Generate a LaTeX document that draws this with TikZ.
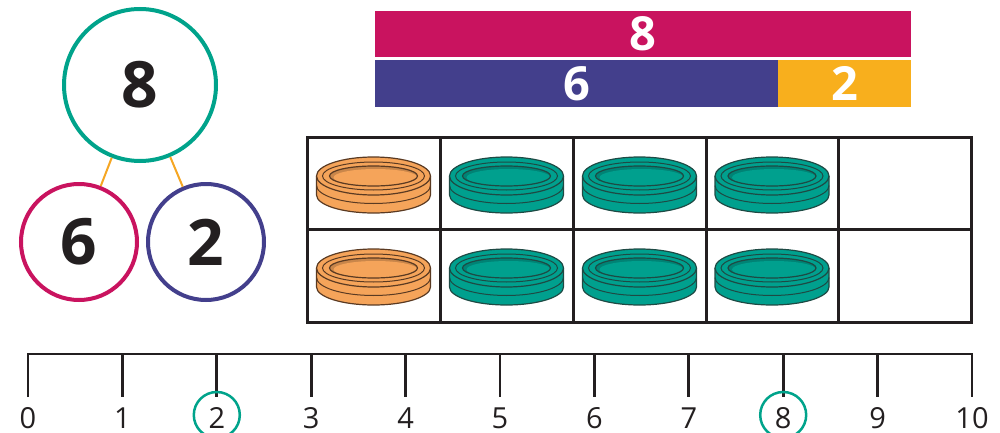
\documentclass[tikz,border=0pt]{standalone}
\usepackage{fontspec}
\setmainfont{Open Sans}
\definecolor{cTeal}{HTML}{00A38B}
\definecolor{cPink}{HTML}{C9135F}
\definecolor{cPurple}{HTML}{433F8C}
\definecolor{cBarOr}{HTML}{F8AF1D}
\definecolor{cLink}{HTML}{F5A623}
\definecolor{cDark}{HTML}{231F20}
\definecolor{cCntTeal}{HTML}{00A08E}
\definecolor{cCntTealD}{HTML}{1E4A44}
\definecolor{cCntOr}{HTML}{F5A45A}
\definecolor{cCntOrD}{HTML}{5A3A22}
\tikzset{
  bigcirc/.style={circle, line width=4, minimum size=152, inner sep=0, text=cDark, font=\fontsize{64}{64}\selectfont\bfseries},
  smallcirc/.style={circle, line width=4, minimum size=116, inner sep=0, text=cDark, font=\fontsize{64}{64}\selectfont\bfseries},
  link/.style={cLink, line width=2},
  barbox/.style={rectangle, inner sep=0, text=white, font=\fontsize{47}{47}\selectfont\bfseries},
  gridline/.style={cDark, line width=3},
  nlline/.style={cDark, line width=2.8},
  nllabel/.style={anchor=base, inner sep=0, text=cDark, font=\fontsize{29}{29}\selectfont},
  ring/.style={circle, draw=cTeal, line width=2.5, minimum size=46, inner sep=0},
  pics/counter/.style 2 args={code={
    \fill[#1] (-57,-9) -- (-57,10) arc[start angle=180,end angle=0,x radius=57,y radius=18] -- (57,-9) -- cycle;
    \draw[#2, line width=1] (-57,0.5) arc[start angle=180,end angle=0,x radius=57,y radius=18];
    \draw[#2, line width=1.2] (-57,-9) -- (-57,10) arc[start angle=180,end angle=0,x radius=57,y radius=18] -- (57,-9);
    \filldraw[fill=#1, draw=#2, line width=1.2] (0,-9) ellipse [x radius=57, y radius=19];
    \draw[#2, line width=1] (0,-9) ellipse [x radius=51, y radius=14];
    \fill[#1!82!black] (0,-9) ellipse [x radius=44, y radius=10];
    \fill[#1] (2,-7.5) ellipse [x radius=42, y radius=8.5];
    \draw[#2, line width=1.2] (0,-9) ellipse [x radius=44, y radius=10];
  }}
}
\begin{document}
\begin{tikzpicture}[x=1pt, y=-1pt]
\useasboundingbox (0,0) rectangle (1000,433);
% part-whole model
\node[bigcirc, draw=cTeal] (whole) at (140,85) {8};
\node[smallcirc, draw=cPink] (partA) at (79,242) {6};
\node[smallcirc, draw=cPurple] (partB) at (206,242) {2};
\draw[link] (whole) -- (partA);
\draw[link] (whole) -- (partB);
% bar model
\node[barbox, fill=cPink, minimum width=536, minimum height=46] (barW) at (643,34) {8};
\node[barbox, fill=cPurple, minimum width=403, minimum height=47] (barA) at (576.5,83.5) {6};
\node[barbox, fill=cBarOr, minimum width=133, minimum height=47] (barB) at (844.5,83.5) {2};
% ten frame
\draw[gridline] (307,137) rectangle (971,322);
\draw[gridline] (307,229) -- (971,229);
\foreach \x in {440,573,706,838} \draw[gridline] (\x,137) -- (\x,322);
\foreach \x in {373.5} {
  \pic at (\x,185) {counter={cCntOr}{cCntOrD}};
  \pic at (\x,277) {counter={cCntOr}{cCntOrD}};
}
\foreach \x in {506.5,639.5,772} {
  \pic at (\x,185) {counter={cCntTeal}{cCntTealD}};
  \pic at (\x,277) {counter={cCntTeal}{cCntTealD}};
}
% number line
\draw[nlline] (28,397) -- (28,354) -- (972,354) -- (972,397);
\foreach \i in {1,...,9} \draw[nlline] ({28+94.4*\i},354) -- ({28+94.4*\i},397);
\foreach \i in {0,...,10} \node[nllabel] (n\i) at ({28+94.4*\i},428) {\i};
\node[ring] (r2) at (216.8,415) {};
\node[ring] (r8) at (783.2,415) {};
\end{tikzpicture}
\end{document}
